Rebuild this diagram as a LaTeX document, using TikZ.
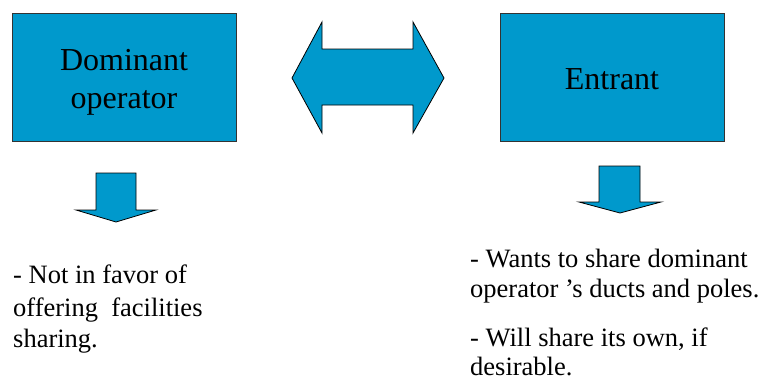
\documentclass[tikz,border=0pt]{standalone}
\usepackage{fontspec}
\setmainfont{Liberation Serif}
\definecolor{boxblue}{RGB}{0,153,204}
\begin{document}
\begin{tikzpicture}[x=1pt,y=-1pt,
  box/.style={draw=black!80, fill=boxblue, line width=0.8pt, minimum width=224pt, minimum height=128pt, inner sep=0pt},
  boxlabel/.style={font=\fontsize{32}{38}\selectfont, align=center, inner sep=0pt},
  blockarrow/.style={draw=black, fill=boxblue, line width=0.8pt, line join=miter},
  note/.style={font=\fontsize{26.5}{31}\selectfont, align=left, anchor=base west, inner sep=0pt}]
\useasboundingbox (0,0) rectangle (764,381);
\node[box] (dom) at (124,77) {};
\node[boxlabel, anchor=base] (domtext) at (124,70) {Dominant};
\node[boxlabel, anchor=base] (domtext2) at (124,108) {operator};
\node[box] (ent) at (612,77) {};
\node[boxlabel, anchor=base] (enttext) at (612,89) {Entrant};
\draw[blockarrow] (292,78) -- (322,22) -- (322,49) -- (413,49) -- (413,22) -- (444,78) -- (413,133) -- (413,105) -- (322,105) -- (322,133) -- cycle;
\draw[blockarrow] (96,173) -- (136,173) -- (136,210) -- (156,210) -- (116,222) -- (76,210) -- (96,210) -- cycle;
\draw[blockarrow] (599,166) -- (640,166) -- (640,202) -- (661,202) -- (620,213) -- (579,202) -- (599,202) -- cycle;
\node[note] (t1a) at (13,283) {- Not in favor of};
\node[note] (t1b) at (13,316) {offering\ \ facilities};
\node[note] (t1c) at (13,347) {sharing.};
\node[note] (t2a) at (470,267) {- Wants to share dominant};
\node[note] (t2b) at (470,297) {operator ’s ducts and poles.};
\node[note] (t3a) at (470,346) {- Will share its own, if};
\node[note] (t3b) at (470,375) {desirable.};
\end{tikzpicture}
\end{document}
